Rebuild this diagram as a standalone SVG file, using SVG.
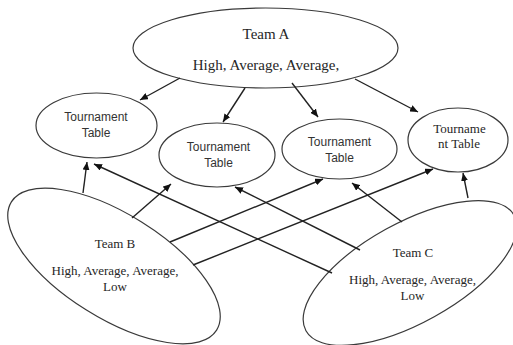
<svg xmlns="http://www.w3.org/2000/svg" width="513" height="345" viewBox="0 0 513 345">
  <style>
    .shape { fill: #ffffff; stroke: #3a3a3a; stroke-width: 1.2; }
    .serif { font-family: "Liberation Serif", "Times New Roman", serif; fill: #262626; text-anchor: middle; }
    .sans { font-family: "Liberation Sans", Arial, sans-serif; font-size: 12px; fill: #333333; text-anchor: middle; }
    .link { stroke: #222222; stroke-width: 1.4; fill: none; marker-end: url(#head); }
  </style>
  <defs>
    <marker id="head" markerUnits="userSpaceOnUse" markerWidth="9" markerHeight="7" refX="8" refY="3.5" orient="auto">
      <path d="M0,0 L8,3.5 L0,7 Z" fill="#111111"/>
    </marker>
  </defs>
  <rect width="513" height="345" fill="#ffffff"/>

  <!-- team ellipses -->
  <g id="team-a">
    <ellipse class="shape" cx="265.5" cy="48" rx="132.5" ry="40"/>
    <text class="serif" x="266" y="39" font-size="15">Team A</text>
    <text class="serif" x="266" y="70" font-size="15">High, Average, Average,</text>
  </g>
  <g id="team-b">
    <ellipse class="shape" cx="114" cy="266" rx="121" ry="52" transform="rotate(32 114 266)"/>
    <text class="serif" x="115" y="248" font-size="13">Team B</text>
    <text class="serif" x="115" y="275" font-size="13">High, Average, Average,</text>
    <text class="serif" x="115" y="291" font-size="13">Low</text>
  </g>
  <g id="team-c">
    <ellipse class="shape" cx="410" cy="273" rx="119" ry="50" transform="rotate(-29 410 273)"/>
    <text class="serif" x="413" y="257" font-size="13">Team C</text>
    <text class="serif" x="412.5" y="284" font-size="13">High, Average, Average,</text>
    <text class="serif" x="412.5" y="300" font-size="13">Low</text>
  </g>

  <!-- tournament tables -->
  <g id="table-1">
    <ellipse class="shape" cx="96.5" cy="125.5" rx="60.5" ry="32.5"/>
    <text class="sans" x="96" y="121">Tournament</text>
    <text class="sans" x="96" y="137">Table</text>
  </g>
  <g id="table-2">
    <ellipse class="shape" cx="217" cy="155" rx="58" ry="32"/>
    <text class="sans" x="218.5" y="151">Tournament</text>
    <text class="sans" x="218.5" y="167">Table</text>
  </g>
  <g id="table-3">
    <ellipse class="shape" cx="339.5" cy="149" rx="57.5" ry="30"/>
    <text class="sans" x="339.5" y="146">Tournament</text>
    <text class="sans" x="339.5" y="162">Table</text>
  </g>
  <g id="table-4">
    <ellipse class="shape" cx="458" cy="140" rx="50" ry="32"/>
    <text class="serif" x="459.5" y="133" font-size="13">Tourname</text>
    <text class="serif" x="459" y="148" font-size="13">nt Table</text>
  </g>

  <!-- connectors -->
  <g id="connectors">
    <line class="link" x1="180" y1="78" x2="140" y2="100"/>
    <line class="link" x1="245" y1="88" x2="223" y2="122"/>
    <line class="link" x1="292" y1="83" x2="318" y2="117"/>
    <line class="link" x1="355" y1="79" x2="418" y2="112"/>

    <line class="link" x1="83" y1="193" x2="87" y2="162"/>
    <line class="link" x1="132" y1="218" x2="171" y2="184"/>
    <line class="link" x1="170" y1="242" x2="323" y2="179"/>
    <line class="link" x1="193" y1="265" x2="433" y2="169"/>

    <line class="link" x1="332" y1="273" x2="94" y2="164"/>
    <line class="link" x1="360" y1="250" x2="235" y2="187"/>
    <line class="link" x1="402" y1="222" x2="352" y2="183"/>
    <line class="link" x1="468" y1="198" x2="463" y2="173"/>
  </g>
</svg>
